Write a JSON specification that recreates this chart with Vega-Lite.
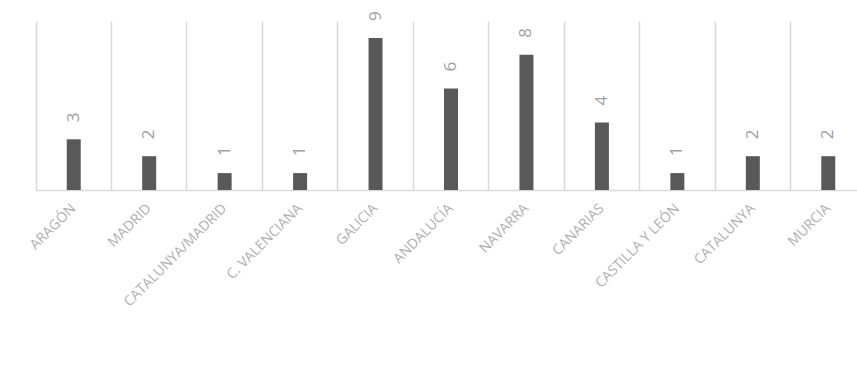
{
  "$schema": "https://vega.github.io/schema/vega-lite/v6.json",
  "autosize": "none",
  "width": 830,
  "height": 169,
  "padding": {"left": 36, "top": 21, "right": 0, "bottom": 175},
  "background": "white",
  "data": {
    "values": [
      {"region": "ARAGÓN", "n": 3},
      {"region": "MADRID", "n": 2},
      {"region": "CATALUNYA/MADRID", "n": 1},
      {"region": "C. VALENCIANA", "n": 1},
      {"region": "GALICIA", "n": 9},
      {"region": "ANDALUCÍA", "n": 6},
      {"region": "NAVARRA", "n": 8},
      {"region": "CANARIAS", "n": 4},
      {"region": "CASTILLA Y LEÓN", "n": 1},
      {"region": "CATALUNYA", "n": 2},
      {"region": "MURCIA", "n": 2}
    ]
  },
  "config": {
    "view": {"stroke": null},
    "font": "Open Sans"
  },
  "encoding": {
    "x": {
      "field": "region",
      "type": "nominal",
      "sort": null,
      "scale": {"paddingInner": 0, "paddingOuter": 0},
      "axis": {
        "title": null,
        "labelAngle": -45,
        "labelAlign": "right",
        "labelBaseline": "middle",
        "labelPadding": 16,
        "labelFontSize": 14,
        "labelColor": "#B0B0B0",
        "labelFont": "Open Sans",
        "labelOverlap": false,
        "ticks": false,
        "domainColor": "#D9D9D9",
        "domainWidth": 1.5,
        "grid": true,
        "gridColor": "#D9D9D9",
        "gridWidth": 1.5,
        "bandPosition": 0
      }
    },
    "y": {
      "field": "n",
      "type": "quantitative",
      "scale": {"domain": [0, 10]},
      "axis": null
    }
  },
  "layer": [
    {"mark": {"type": "bar", "color": "#595959", "size": 14}},
    {
      "mark": {
        "type": "text",
        "angle": 270,
        "align": "left",
        "baseline": "middle",
        "yOffset": -17,
        "fontSize": 17,
        "color": "#A0A0A0",
        "font": "Open Sans"
      },
      "encoding": {"text": {"field": "n", "type": "quantitative"}}
    }
  ]
}
